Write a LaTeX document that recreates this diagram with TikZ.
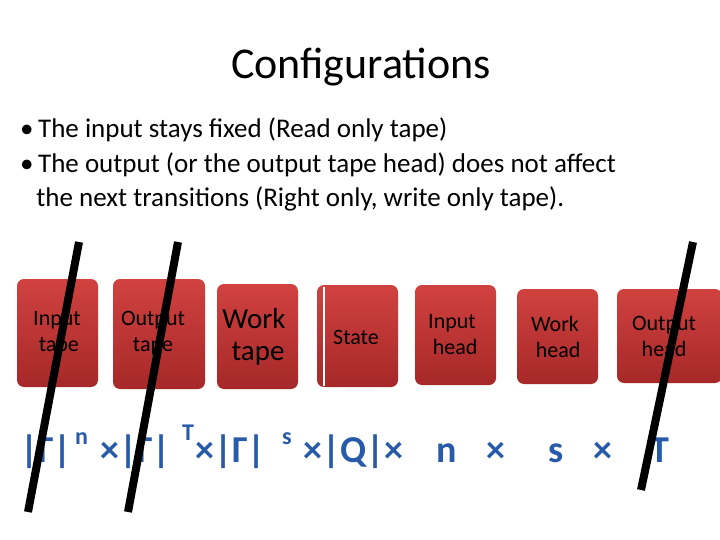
\documentclass[tikz,border=0pt]{standalone}
\usepackage{fontspec}
\setmainfont{Carlito}
\begin{document}
\begin{tikzpicture}[x=1pt,y=-1pt,
  tapebox/.style={rounded corners=7pt,top color=boxtop,bottom color=boxbot,draw=none},
  lbl/.style={align=center,text=black,font=\fontsize{22}{26}\selectfont},
  slash/.style={line width=8pt,black},
  frm/.style={text=formblue,font=\bfseries\fontsize{38}{40}\selectfont,anchor=base west,inner sep=0pt},
  sup/.style={text=formblue,font=\bfseries\fontsize{24}{26}\selectfont,anchor=base west,inner sep=0pt}]
\definecolor{boxtop}{RGB}{208,66,64}
\definecolor{boxbot}{RGB}{166,40,40}
\definecolor{formblue}{RGB}{40,90,170}
\useasboundingbox (0,0) rectangle (720,540);
\fill[white] (0,0) rectangle (720,540);
\node[font=\fontsize{44}{48}\selectfont] (title) at (361,67) {Configurations};
\node[anchor=north west,align=left,font=\fontsize{27}{34.5}\selectfont,inner sep=0pt] (bul) at (20,118)
 {\textbullet\,The input stays fixed (Read only tape)\\
  \textbullet\,The output (or the output tape head) does not affect\\
  \hspace*{0.6em}the next transitions (Right only, write only tape).};
\path[tapebox] (17,279) rectangle (98,387);
\path[tapebox] (113,279) rectangle (205,389);
\path[tapebox] (217,284) rectangle (298,389);
\path[tapebox] (317,285) rectangle (398,387);
\draw[white,line width=1.2pt] (324,287) -- (324,386);
\path[tapebox] (415,285) rectangle (496,385);
\path[tapebox] (517,289) rectangle (598,384);
\path[tapebox] (617,289) rectangle (722,383);
\node[lbl] (b1) at (57,333) {Input\\ \,tape};
\node[lbl] (b2) at (153,333) {Output\\tape};
\node[lbl,font=\fontsize{29}{32}\selectfont] (b3) at (254,337) {Work\\ \;tape};
\node[lbl] (b4) at (356,337) {State};
\node[lbl] (b5) at (452,335) {Input\\ \;head};
\node[lbl] (b6) at (555,337) {Work\\ \;head};
\node[lbl] (b7) at (664,336) {Output\\head};
\node[frm] (f1) at (20,462) {|Γ|};
\node[sup] (f1e) at (75,444) {n};
\node[frm] (f2) at (100,462) {×|Γ|};
\node[sup] (f2e) at (182,440) {T};
\node[frm] (f3) at (195,462) {×|Γ|};
\node[sup] (f3e) at (282,444) {s};
\node[frm] (f4) at (303,462) {×|Q|×};
\node[frm] (f5) at (436,462) {n};
\node[frm] (f6) at (486,462) {×};
\node[frm] (f7) at (548,462) {s};
\node[frm] (f8) at (593,462) {×};
\node[frm] (f9) at (650,462) {T};
\coordinate (s1a) at (79,242); \coordinate (s1b) at (28,512);
\coordinate (s2a) at (178,242); \coordinate (s2b) at (128,512);
\coordinate (s3a) at (693,242); \coordinate (s3b) at (641,490);
\draw[slash] (s1a) -- (s1b);
\draw[slash] (s2a) -- (s2b);
\draw[slash] (s3a) -- (s3b);
\end{tikzpicture}
\end{document}
